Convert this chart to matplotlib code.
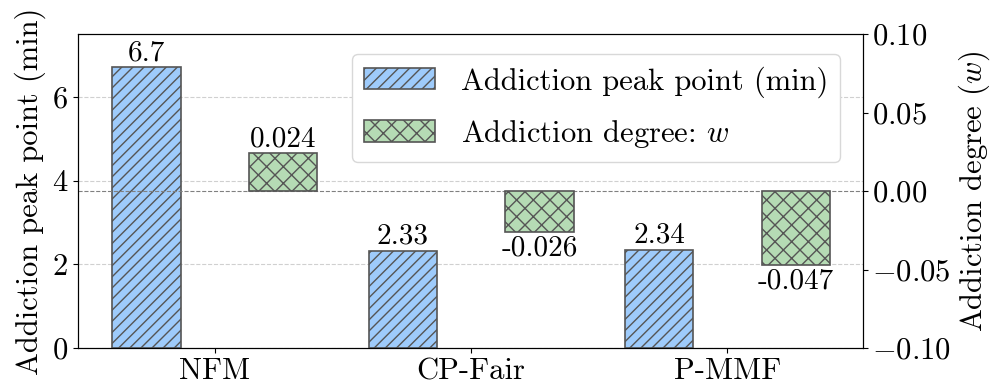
import matplotlib
matplotlib.use("Agg")
import matplotlib.pyplot as plt
import numpy as np

plt.rcParams['font.family'] = 'serif'
plt.rcParams['font.serif'] = ['cmr10', 'DejaVu Serif']
plt.rcParams['mathtext.fontset'] = 'cm'
plt.rcParams['axes.formatter.use_mathtext'] = True
plt.rcParams['axes.unicode_minus'] = True
plt.rcParams['hatch.color'] = '#555555'
plt.rcParams['hatch.linewidth'] = 1.0

categories = ['NFM', 'CP-Fair', 'P-MMF']
peak_point = [6.7, 2.33, 2.34]
degree_w = [0.024, -0.026, -0.047]
peak_labels = ['6.7', '2.33', '2.34']
w_labels = ['0.024', '-0.026', '-0.047']

FS = 22
fig, ax = plt.subplots(figsize=(9.96, 3.86), dpi=100)
fig.subplots_adjust(left=0.078, right=0.866, top=0.912, bottom=0.098)
ax2 = ax.twinx()

x = np.arange(len(categories))
w = 0.8 / 3
b1 = ax.bar(x - w, peak_point, width=w, color='#9ecbfb', edgecolor='#555555',
            linewidth=1.2, hatch='///', label='Addiction peak point (min)', zorder=3)
b2 = ax2.bar(x + w, degree_w, width=w, color='#b5dbb4', edgecolor='#555555',
             linewidth=1.2, hatch='xx', label='Addiction degree: $w$', zorder=3)

for xi, v, lab in zip(x - w, peak_point, peak_labels):
    ax.text(xi, v + 0.03, lab, ha='center', va='bottom', fontsize=FS - 1)
for xi, v, lab in zip(x + w, degree_w, w_labels):
    if v >= 0:
        ax2.text(xi, v + 0.0008, lab, ha='center', va='bottom', fontsize=FS - 1)
    else:
        ax2.text(xi, v - 0.002, lab, ha='center', va='top', fontsize=FS - 1)

ax.set_ylim(0, 7.5)
ax.set_yticks([0, 2, 4, 6])
ax2.set_ylim(-0.1, 0.1)
ax2.set_yticks([-0.10, -0.05, 0.00, 0.05, 0.10])
ax2.set_yticklabels(['$-0.10$', '$-0.05$', '$0.00$', '$0.05$', '$0.10$'])
ax.set_xlim(-0.535, 2.527)
ax.set_xticks(x)
ax.set_xticklabels(categories)

ax.yaxis.grid(True, linestyle='--', color='#d0d0d0', linewidth=0.8, zorder=0)
ax.set_axisbelow(True)
ax2.axhline(0, linestyle='--', color='#808080', linewidth=0.8, zorder=1)

ax.tick_params(labelsize=FS)
ax2.tick_params(labelsize=FS)
ax.set_ylabel('Addiction peak point (min)', fontsize=FS)
ax2.set_ylabel('Addiction degree ($w$)', fontsize=FS)

ax.legend([b1, b2], ['Addiction peak point (min)', 'Addiction degree: $w$'],
          loc='upper right', fontsize=FS, framealpha=1.0, edgecolor='#d8d8d8',
          bbox_to_anchor=(0.991, 0.985), handlelength=2.3, handleheight=0.7,
          labelspacing=0.66, handletextpad=0.85)

fig.savefig('out.png', dpi=100)
